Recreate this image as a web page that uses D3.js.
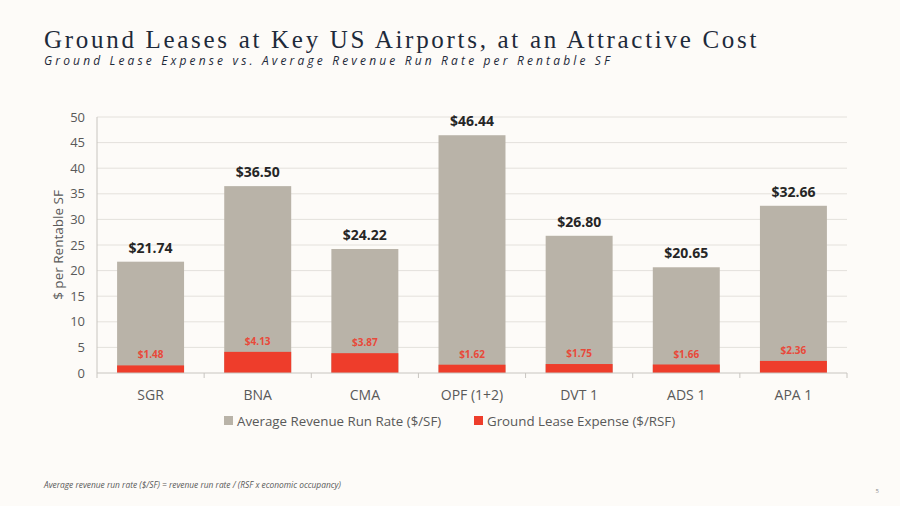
<!DOCTYPE html>
<html lang="en">
<head>
    <meta charset="UTF-8">
    <title>Ground Leases</title>
    <script src="https://d3js.org/d3.v7.min.js"></script>
    <style>
        body { margin: 0; background: #fdfbf8; }
        svg { display: block; }
        .grid line { stroke: #e4e1dc; stroke-width: 1px; }
        .tick-label { font-family: "Open Sans", sans-serif; font-size: 13px; fill: #595959; }
        .cat-label { font-family: "Open Sans", sans-serif; font-size: 14px; fill: #595959; }
        .axis-line { stroke: #c8c5c0; stroke-width: 1px; }
    </style>
</head>
<body>
    <div id="chart"></div>
    <script>
        const categories = ["SGR", "BNA", "CMA", "OPF (1+2)", "DVT 1", "ADS 1", "APA 1"];
        const revenueRunRate = [21.74, 36.50, 24.22, 46.44, 26.80, 20.65, 32.66];
        const groundLease = [1.48, 4.13, 3.87, 1.62, 1.75, 1.66, 2.36];
        const yTicks = [0, 5, 10, 15, 20, 25, 30, 35, 40, 45, 50];
        const seriesNames = ["Average Revenue Run Rate ($/SF)", "Ground Lease Expense ($/RSF)"];

        const width = 900;
        const height = 506;
        const margin = { top: 117, right: 53, bottom: 133, left: 97 };
        const innerW = width - margin.left - margin.right;
        const innerH = height - margin.top - margin.bottom;

        const grayColor = "#b9b3a8";
        const redColor = "#ee3d2b";

        const svg = d3.select("#chart")
            .append("svg")
            .attr("width", width)
            .attr("height", height);

        svg.append("rect").attr("width", width).attr("height", height).attr("fill", "#fdfbf8");

        // titles
        svg.append("text")
            .attr("x", 44).attr("y", 48)
            .attr("font-family", "'Liberation Serif', serif")
            .attr("font-size", 25)
            .attr("letter-spacing", "2.7px")
            .attr("fill", "#1e2a3a")
            .text("Ground Leases at Key US Airports, at an Attractive Cost");

        svg.append("text")
            .attr("x", 44).attr("y", 65)
            .attr("font-family", "'Open Sans', sans-serif")
            .attr("font-style", "italic")
            .attr("font-size", 12)
            .attr("letter-spacing", "3.15px")
            .attr("fill", "#1e2a3a")
            .text("Ground Lease Expense vs. Average Revenue Run Rate per Rentable SF");

        const g = svg.append("g")
            .attr("transform", `translate(${margin.left}, ${margin.top})`);

        const x = d3.scaleBand()
            .domain(categories)
            .range([0, innerW])
            .paddingInner(0.375)
            .paddingOuter(0.1875);

        const y = d3.scaleLinear()
            .domain([0, 50])
            .range([innerH, 0]);

        // gridlines
        g.append("g").attr("class", "grid")
            .selectAll("line")
            .data(yTicks.slice(1))
            .join("line")
            .attr("x1", 0).attr("x2", innerW)
            .attr("y1", d => y(d)).attr("y2", d => y(d));

        // y tick labels
        g.selectAll(".tick-label")
            .data(yTicks)
            .join("text")
            .attr("class", "tick-label")
            .attr("x", -12)
            .attr("y", d => y(d))
            .attr("dy", "0.35em")
            .attr("text-anchor", "end")
            .text(d => d);

        // y axis label
        svg.append("text")
            .attr("transform", `translate(63, ${margin.top + innerH / 2}) rotate(-90)`)
            .attr("text-anchor", "middle")
            .attr("font-family", "'Open Sans', sans-serif")
            .attr("font-size", 13.5)
            .attr("fill", "#595959")
            .text("$ per Rentable SF");

        // bars
        g.selectAll(".bar-rev")
            .data(categories)
            .join("rect")
            .attr("class", "bar-rev")
            .attr("x", d => x(d))
            .attr("width", x.bandwidth())
            .attr("y", (d, i) => y(revenueRunRate[i]))
            .attr("height", (d, i) => innerH - y(revenueRunRate[i]))
            .attr("fill", grayColor);

        g.selectAll(".bar-gl")
            .data(categories)
            .join("rect")
            .attr("class", "bar-gl")
            .attr("x", d => x(d))
            .attr("width", x.bandwidth())
            .attr("y", (d, i) => y(groundLease[i]))
            .attr("height", (d, i) => innerH - y(groundLease[i]))
            .attr("fill", redColor);

        // value labels
        g.selectAll(".lbl-rev")
            .data(categories)
            .join("text")
            .attr("x", d => x(d) + x.bandwidth() / 2)
            .attr("y", (d, i) => y(revenueRunRate[i]) - 9)
            .attr("text-anchor", "middle")
            .attr("font-family", "'Open Sans', sans-serif")
            .attr("font-weight", "bold")
            .attr("font-size", 14)
            .attr("fill", "#262626")
            .text((d, i) => "$" + revenueRunRate[i].toFixed(2));

        g.selectAll(".lbl-gl")
            .data(categories)
            .join("text")
            .attr("x", d => x(d) + x.bandwidth() / 2)
            .attr("y", (d, i) => y(groundLease[i]) - 7)
            .attr("text-anchor", "middle")
            .attr("font-family", "'Open Sans', sans-serif")
            .attr("font-weight", "bold")
            .attr("font-size", 10)
            .attr("fill", "#e8493a")
            .text((d, i) => "$" + groundLease[i].toFixed(2));

        // axis lines
        g.append("line").attr("class", "axis-line")
            .attr("x1", 0).attr("x2", 0).attr("y1", 0).attr("y2", innerH);
        g.append("line").attr("class", "axis-line")
            .attr("x1", 0).attr("x2", innerW).attr("y1", innerH).attr("y2", innerH);

        const boundaries = d3.range(categories.length + 1).map(i => i * innerW / categories.length);
        g.selectAll(".xtick")
            .data(boundaries)
            .join("line")
            .attr("class", "axis-line")
            .attr("x1", d => d).attr("x2", d => d)
            .attr("y1", innerH).attr("y2", innerH + 5);

        g.selectAll(".cat-label")
            .data(categories)
            .join("text")
            .attr("class", "cat-label")
            .attr("x", d => x(d) + x.bandwidth() / 2)
            .attr("y", innerH + 27)
            .attr("text-anchor", "middle")
            .text(d => d);

        // legend
        const legend = svg.append("g");
        const legendItems = [
            { name: seriesNames[0], color: grayColor, x: 224 },
            { name: seriesNames[1], color: redColor, x: 474 }
        ];
        legendItems.forEach(item => {
            legend.append("rect")
                .attr("x", item.x).attr("y", 416)
                .attr("width", 9).attr("height", 9)
                .attr("fill", item.color);
            legend.append("text")
                .attr("x", item.x + 13).attr("y", 425.5)
                .attr("font-family", "'Open Sans', sans-serif")
                .attr("font-size", 13.3)
                .attr("fill", "#595959")
                .text(item.name);
        });

        // footnote
        svg.append("text")
            .attr("x", 44).attr("y", 488)
            .attr("font-family", "'Open Sans', sans-serif")
            .attr("font-style", "italic")
            .attr("font-size", 8.4)
            .attr("fill", "#595959")
            .text("Average revenue run rate ($/SF) = revenue run rate / (RSF x economic occupancy)");

        svg.append("text")
            .attr("x", 879).attr("y", 493)
            .attr("text-anchor", "end")
            .attr("font-family", "'Open Sans', sans-serif")
            .attr("font-size", 6)
            .attr("fill", "#8c8c8c")
            .text("5");
    </script>
</body>
</html>
